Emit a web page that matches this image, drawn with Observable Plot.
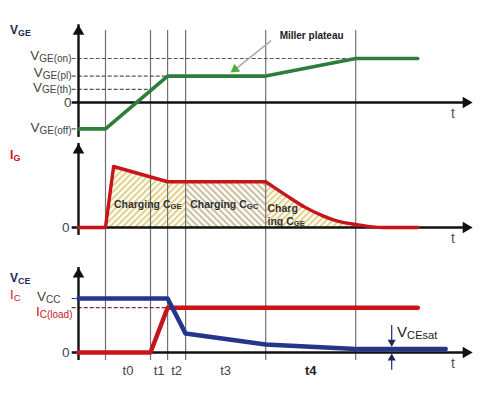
<!DOCTYPE html>
<html><head><meta charset="utf-8">
<script src="https://cdn.jsdelivr.net/npm/d3@7"></script>
<script src="https://cdn.jsdelivr.net/npm/@observablehq/plot@0.6"></script>
<style>body{margin:0;background:#fff}#chart{width:480px;height:396px;overflow:hidden}#chart svg{display:block}</style>
</head><body><div id="chart"></div>
<script>
// ---- data (arbitrary time units) ----
const phaseTimes = [3, 8, 9.9, 11.9, 20.8, 30.8];
const phaseLabels = ["t0", "t1", "t2", "t3", "t4"];
// gate-emitter voltage levels (V)
const vgeLevelNames = ["V_GE(on)", "V_GE(pl)", "V_GE(th)", "0", "V_GE(off)"];
const vgeLevelValues = [15, 9, 4.5, 0, -9];
const vgeTime = [0, 3, 9.9, 20.8, 30.8, 37.7];
const vgeValue = [-9, -9, 9, 9, 15, 15];
// gate current (A)
const igTime = [0, 3, 3.9, 9.9, 11.9, 20.8];
const igValue = [0, 0, 2, 1.5, 1.5, 1.5];
const igDecayTime = [20.8, 21.9, 23.6, 25.2, 27.1, 28.9, 30.8, 32.4, 34, 37.7];
const igDecayValue = [1.5, 1.28, 0.95, 0.66, 0.39, 0.2, 0.1, 0.03, 0, 0];
// collector current & collector-emitter voltage (normalised)
const icTime = [0, 8, 9.9, 37.7];
const icValue = [0, 0, 0.83, 0.83];
const vceTime = [0, 9.9, 11.9, 20.8, 30.8, 40.8];
const vceValue = [1, 1, 0.35, 0.15, 0.065, 0.065];
const vccLevel = 1, icLoadLevel = 0.83, vceSatLevel = 0.065;
const chargeLabels = ["Charging C_GE", "Charging C_GC", "Charg", "ing C_GE"];

// ---- helpers ----
const green = "#2f7d3b", red = "#c8151b", blue = "#24368c", navy = "#1f2a5a", txt = "#444", axisC = "#111", ruleC = "#707070";
const T = phaseTimes;
const rows = (ts, vs) => ts.map((t, i) => ({t, v: vs[i]}));
const vge = rows(vgeTime, vgeValue);
const ig = rows(igTime, igValue);
const igDecay = rows(igDecayTime, igDecayValue);
const ic = rows(icTime, icValue);
const vce = rows(vceTime, vceValue);
const levels = vgeLevelNames.map((name, i) => ({name, v: vgeLevelValues[i]}));
const dashEnd = [T[5], T[2], T[1], null, 0];
const labelShift = [-3, -3, -2, 0, -1];

function head(x, y, angle, r, fill) {
  const s = Math.sqrt(4 * Math.PI * r * r / Math.sqrt(3)), d = s / Math.sqrt(3), a = angle * Math.PI / 180;
  return Plot.dot([0], {x, y, r, symbol: "triangle", rotate: angle, fill, dx: -d * Math.sin(a), dy: d * Math.cos(a)});
}
function axes(yBottom, yTip) {
  return [
    Plot.ruleY([0], {x1: -0.7, x2: 43, stroke: axisC, strokeWidth: 2.4}),
    Plot.ruleX([0], {y1: yBottom, y2: yTip, stroke: axisC, strokeWidth: 2.4}),
    head(43.8, 0, 90, 4.3, axisC),
    head(0, yTip, 0, 4.3, axisC),
    Plot.text(["t"], {x: 41.6, y: 0, dy: 11, text: d => d, fontSize: 14, fill: "#555"})
  ];
}
const base = {
  width: 480, marginLeft: 78, marginRight: 6,
  x: {domain: [0, 44], range: [78, 474], axis: null},
  style: {fontFamily: "Liberation Sans, Arial, sans-serif", background: "white", overflow: "visible"}
};
function subscripts(svg) {
  svg.querySelectorAll("text").forEach(t => {
    if (t.children.length) return;
    const s = t.textContent, i = s.indexOf("_");
    if (i < 0) return;
    t.textContent = s.slice(0, i);
    const ts = document.createElementNS("http://www.w3.org/2000/svg", "tspan");
    ts.setAttribute("font-size", "0.74em");
    ts.setAttribute("dy", "0.18em");
    ts.textContent = s.slice(i + 1);
    t.appendChild(ts);
  });
  return svg;
}

// ---- panel 1: V_GE ----
const p1 = Plot.plot({
  ...base, height: 138, marginTop: 30, marginBottom: 0,
  y: {domain: [0, 15], range: [102, 58], axis: null},
  marks: [
    Plot.ruleX(T, {stroke: ruleC, strokeWidth: 1.2}),
    Plot.ruleY(levels.map((d, i) => ({...d, end: dashEnd[i]})).filter(d => d.end !== null),
      {y: "v", x1: -0.7, x2: "end", stroke: "#555", strokeWidth: 1.2, strokeDasharray: "4,2"}),
    ...axes(-11.9, 26.5),
    Plot.line(vge, {x: "t", y: "v", stroke: green, strokeWidth: 3.6, strokeLinejoin: "round"}),
    ...levels.map((d, i) => Plot.text([d], {x: 0, y: "v", text: "name", dx: -7, dy: labelShift[i], textAnchor: "end", fontSize: 13.5, fill: txt})),
    Plot.text(["V_GE"], {x: -7.6, y: 24.5, text: d => d, textAnchor: "start", fontSize: 12, fontWeight: "bold", fill: navy}),
    Plot.link([0], {x1: 21.4, y1: 21.1, x2: 17.2, y2: 10.8, stroke: "#aaa", strokeWidth: 1.5}),
    head(16.9, 10.2, -127, 3.6, "#4caf3a"),
    Plot.text(["Miller plateau"], {x: 25.9, y: 22.8, text: d => d, fontSize: 10, fontWeight: "bold", fill: "#222"})
  ]
});

// ---- panel 2: I_G ----
const p2 = Plot.plot({
  ...base, height: 112, marginTop: 0, marginBottom: 0,
  y: {domain: [0, 2], range: [89, 28], axis: null},
  marks: [
    Plot.areaY(ig.filter(d => d.t >= T[0] && d.t <= T[3]), {x: "t", y: "v", fill: "url(#hatchA)"}),
    Plot.areaY(ig.filter(d => d.t >= T[3] && d.t <= T[4]), {x: "t", y: "v", fill: "url(#hatchB)"}),
    Plot.areaY(igDecay.filter(d => d.t <= 34), {x: "t", y: "v", curve: "monotone-x", fill: "url(#hatchA)"}),
    Plot.ruleX(T, {stroke: ruleC, strokeWidth: 1.2}),
    ...axes(-0.26, 2.754),
    Plot.line(ig, {x: "t", y: "v", stroke: red, strokeWidth: 3.4, strokeLinejoin: "round"}),
    Plot.line(igDecay, {x: "t", y: "v", stroke: red, strokeWidth: 3.4, curve: "monotone-x"}),
    Plot.text(["0"], {x: 0, y: 0, dx: -9, text: d => d, textAnchor: "end", fontSize: 13.5, fill: txt}),
    Plot.text(["I_G"], {x: -7.6, y: 2.36, text: d => d, textAnchor: "start", fontSize: 12, fontWeight: "bold", fill: red}),
    Plot.text(chargeLabels.slice(0, 2), {x: (d, i) => [7.7, 16.2][i], y: 0.75, text: d => d, fontSize: 10.5, fontWeight: "bold", fill: "#333"}),
    Plot.text(chargeLabels.slice(2), {x: 21.0, y: (d, i) => [0.62, 0.2][i], text: d => d, textAnchor: "start", fontSize: 10.5, fontWeight: "bold", fill: "#333"})
  ]
});
const defs = d3.select(p2).insert("defs", ":first-child");
[["hatchA", 45, "#dfcd86", "#fffdf3"], ["hatchB", -45, "#c8bb9c", "#fbfaf5"]].forEach(([id, rot, c, bg]) => {
  const p = defs.append("pattern").attr("id", id).attr("patternUnits", "userSpaceOnUse")
    .attr("width", 4.5).attr("height", 4.5).attr("patternTransform", `rotate(${rot})`);
  p.append("rect").attr("width", 4.5).attr("height", 4.5).attr("fill", bg);
  p.append("line").attr("x1", 1).attr("y1", 0).attr("x2", 1).attr("y2", 4.5).attr("stroke", c).attr("stroke-width", 1.8);
});

// ---- panel 3: V_CE, I_C ----
const p3 = Plot.plot({
  ...base, height: 146, marginTop: 0, marginBottom: 36,
  y: {domain: [0, 1], range: [102, 48], axis: null},
  marks: [
    Plot.ruleX(T, {stroke: ruleC, strokeWidth: 1.2}),
    Plot.ruleY([vccLevel], {x1: -0.7, x2: 0, stroke: navy, strokeWidth: 1.2, strokeDasharray: "4,2"}),
    Plot.ruleY([icLoadLevel], {x1: -0.7, x2: T[2], stroke: "#8a2a2a", strokeWidth: 1.2, strokeDasharray: "4,2"}),
    ...axes(-0.148, 1.574),
    Plot.line(ic, {x: "t", y: "v", stroke: red, strokeWidth: 4.5, strokeLinejoin: "round"}),
    Plot.line(vce, {x: "t", y: "v", stroke: blue, strokeWidth: 4.5, strokeLinejoin: "round"}),
    Plot.text(["0"], {x: 0, y: 0, dx: -9, text: d => d, textAnchor: "end", fontSize: 13.5, fill: txt}),
    Plot.text(["V_CC"], {x: 0, y: vccLevel, dx: -18, dy: -2, text: d => d, textAnchor: "end", fontSize: 13.5, fill: txt}),
    Plot.text(["I_C(load)"], {x: 0, y: icLoadLevel, dx: -6, dy: 4, text: d => d, textAnchor: "end", fontSize: 13.5, fill: red}),
    Plot.text(["V_CE"], {x: -7.6, y: 1.37, text: d => d, textAnchor: "start", fontSize: 12, fontWeight: "bold", fill: navy}),
    Plot.text(["I_C"], {x: -7.6, y: 1.06, text: d => d, textAnchor: "start", fontSize: 13, fill: red}),
    Plot.ruleX([34.8], {y1: 0.5, y2: vceSatLevel + 0.05, stroke: navy, strokeWidth: 1.2}),
    head(34.8, vceSatLevel + 0.04, 180, 3, navy),
    Plot.ruleX([34.8], {y1: -0.33, y2: -0.05, stroke: navy, strokeWidth: 1.2}),
    head(34.8, -0.02, 0, 3, navy),
    Plot.text(["V_CEsat"], {x: 35.4, y: 0.37, text: d => d, textAnchor: "start", fontSize: 15, fill: "#222"}),
    Plot.text(phaseLabels.slice(0, 4), {x: (d, i) => (T[i] + T[i + 1]) / 2, y: 0, dy: 18, text: d => d, fontSize: 13, fill: txt}),
    Plot.text(phaseLabels.slice(4), {x: (T[4] + T[5]) / 2, y: 0, dy: 18, text: d => d, fontSize: 13, fontWeight: "bold", fill: "#222"})
  ]
});

const chart = document.getElementById("chart");
[p1, p2, p3].forEach(p => chart.appendChild(subscripts(p)));
</script>
</body></html>
